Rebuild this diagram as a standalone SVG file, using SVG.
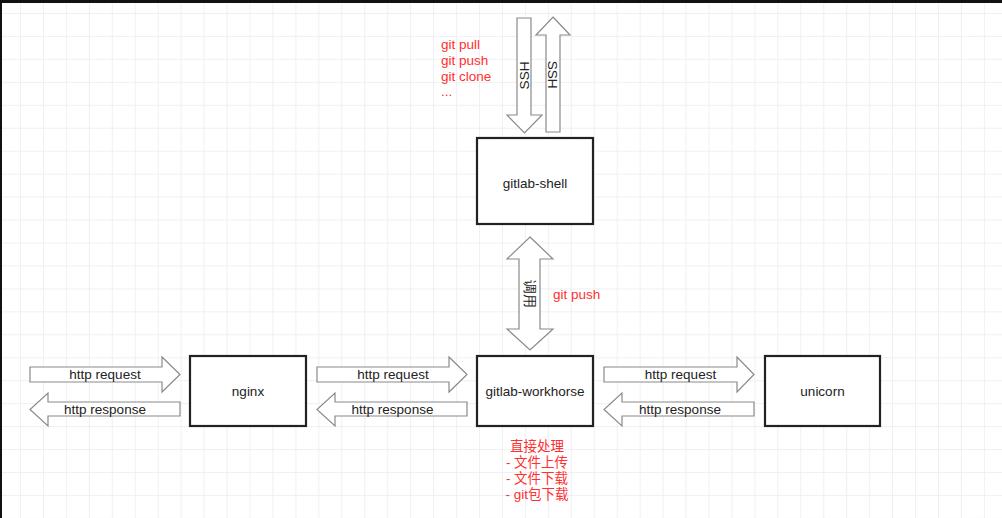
<svg xmlns="http://www.w3.org/2000/svg" width="1002" height="518" viewBox="0 0 1002 518">
  <defs>
    <pattern id="grid" patternUnits="userSpaceOnUse" x="20" y="13" width="22.95" height="22.95">
      <path d="M0.5 0V22.95M0 0.5H22.95" fill="none" stroke="#f0f0f4" stroke-width="1"/>
    </pattern>
    <style>
      .box{fill:#fff;stroke:#222;stroke-width:2.2}
      .arr{fill:#fff;stroke:#8a8a8a;stroke-width:1.2;stroke-linejoin:miter}
      .t{font-family:"Liberation Sans",Arial,sans-serif;font-size:13.5px;fill:#222}
      .c{text-anchor:middle}
      .red{font-family:"Liberation Sans","Noto Sans CJK SC",sans-serif;font-size:13.5px;fill:#ff3030}
    </style>
  </defs>
  <rect width="1002" height="518" fill="#fff"/>
  <rect width="1002" height="518" fill="url(#grid)"/>
  <rect x="0" y="0" width="1002" height="3" fill="#111"/>
  <rect x="0" y="0" width="2" height="518" fill="#111"/>

  <g id="connectors">
    <polygon class="arr" points="517,18 531,18 531,115 542,115 524.5,133 507,115 517,115"/>
    <text class="t c" transform="translate(524,75.5) rotate(-90)" dy="4.8">SSH</text>
    <polygon class="arr" points="553,17 570,35 560,35 560,132 546,132 546,35 536,35"/>
    <text class="t c" transform="translate(553,74.5) rotate(90)" dy="4.8">SSH</text>

    <polygon class="arr" points="530,237 553,259 540,259 540,329 553,329 530,350 507,329 519,329 519,259 507,259"/>
    <text class="t c" transform="translate(529.5,293.5) rotate(90)" dy="4.8" font-family="Liberation Sans, Noto Sans CJK SC, sans-serif">调用</text>

    <polygon class="arr" points="30,367 162,367 162,357 180,374.5 162,392 162,382 30,382"/>
    <text class="t c" x="105" y="379">http request</text>
    <polygon class="arr" points="180,402 48,402 48,393 30,409.5 48,426 48,416 180,416"/>
    <text class="t c" x="105" y="413.5">http response</text>

    <polygon class="arr" points="317,367 449,367 449,357 467,374.5 449,392 449,382 317,382"/>
    <text class="t c" x="393" y="379">http request</text>
    <polygon class="arr" points="467,402 335,402 335,393 317,409.5 335,426 335,416 467,416"/>
    <text class="t c" x="392.5" y="413.5">http response</text>

    <polygon class="arr" points="604,367 737,367 737,357 754,374.5 737,392 737,382 604,382"/>
    <text class="t c" x="680.5" y="379">http request</text>
    <polygon class="arr" points="754,402 622,402 622,393 604,409.5 622,426 622,416 754,416"/>
    <text class="t c" x="680" y="413.5">http response</text>
  </g>

  <g id="gitlab-shell">
    <rect class="box" x="477" y="138" width="116" height="86"/>
    <text class="t c" x="535" y="187.5">gitlab-shell</text>
  </g>
  <g id="nginx">
    <rect class="box" x="190" y="356" width="116" height="70"/>
    <text class="t c" x="248" y="396">nginx</text>
  </g>
  <g id="gitlab-workhorse">
    <rect class="box" x="477" y="356" width="116" height="70"/>
    <text class="t c" x="535" y="396">gitlab-workhorse</text>
  </g>
  <g id="unicorn">
    <rect class="box" x="765" y="356" width="115" height="70"/>
    <text class="t c" x="822.5" y="396">unicorn</text>
  </g>

  <g id="notes">
    <text class="red" x="441" y="49">git pull</text>
    <text class="red" x="441" y="65">git push</text>
    <text class="red" x="441" y="80.5">git clone</text>
    <text class="red" x="441" y="96">...</text>
    <text class="red" x="553" y="298.5">git push</text>
    <text class="red c" x="537" y="451">直接处理</text>
    <text class="red c" x="537" y="467">- 文件上传</text>
    <text class="red c" x="537" y="483">- 文件下载</text>
    <text class="red c" x="537" y="498.5">- git包下载</text>
  </g>
</svg>
